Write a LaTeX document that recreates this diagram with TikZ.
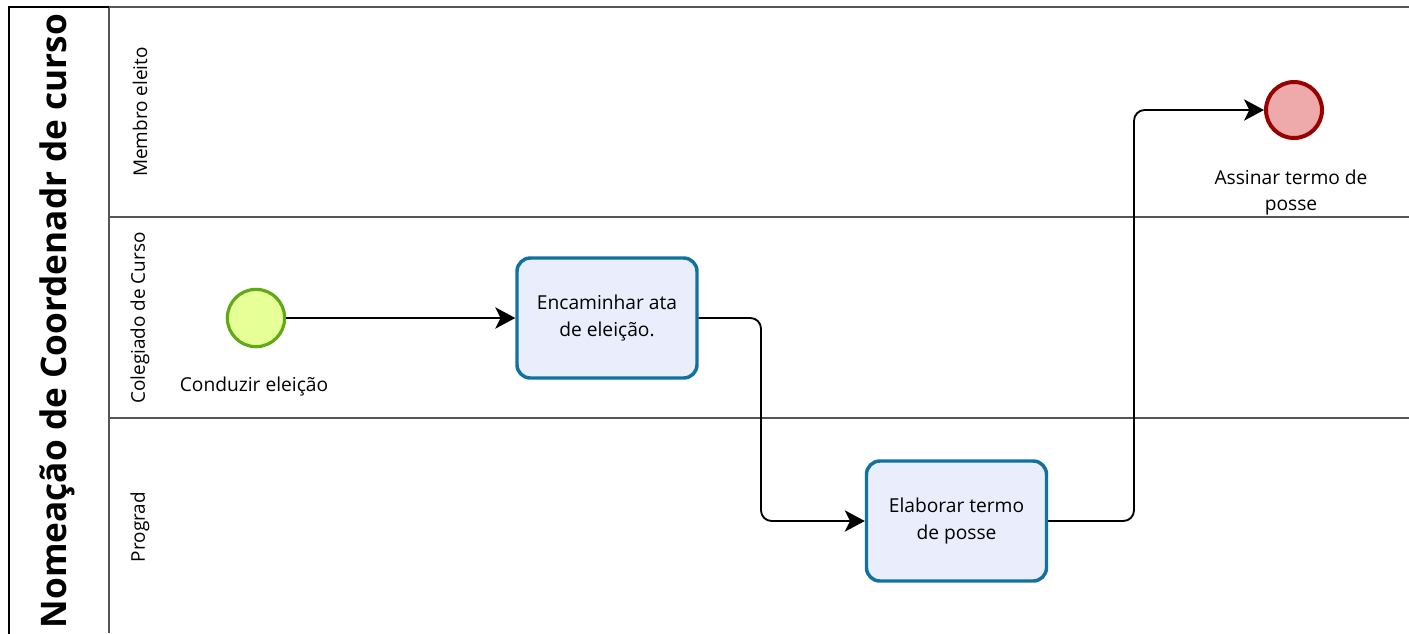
\documentclass[tikz,border=0pt]{standalone}
\usepackage{fontspec}
\setmainfont{Open Sans}
\usetikzlibrary{arrows.meta}
\definecolor{taskfill}{HTML}{EAEDFC}
\definecolor{taskline}{HTML}{10739E}
\definecolor{startfill}{HTML}{E6FF97}
\definecolor{startline}{HTML}{60A917}
\definecolor{endfill}{HTML}{EEA9AA}
\definecolor{endline}{HTML}{990000}
\definecolor{laneline}{HTML}{555555}
\begin{document}
\begin{tikzpicture}[x=0.75pt,y=-0.75pt,
  task/.style={draw=taskline,fill=taskfill,line width=2.6pt,rounded corners=10pt,minimum width=135pt,minimum height=90pt,align=center,font=\fontsize{14.4}{20.5}\selectfont,inner sep=0pt},
  startev/.style={circle,draw=startline,fill=startfill,line width=2.4pt,minimum size=43pt,inner sep=0pt},
  endev/.style={circle,draw=endline,fill=endfill,line width=3pt,minimum size=42pt,inner sep=0pt},
  lbl/.style={font=\fontsize{14.4}{19.5}\selectfont,align=center,inner sep=0pt},
  lanelbl/.style={font=\fontsize{14.2}{17}\selectfont,rotate=90,inner sep=0pt},
  flow/.style={draw=black,line width=1.4pt,rounded corners=8pt,-{Stealth[length=15pt,width=16pt,inset=4pt]}}]
\useasboundingbox (0,0) rectangle (1409,633);
% lanes
\draw[laneline,line width=1.5pt] (109,7) -- (1409,7);
\draw[laneline,line width=1.5pt] (109,217) -- (1409,217);
\draw[laneline,line width=1.5pt] (109,418) -- (1409,418);
\draw[laneline,line width=1.5pt] (109,7) -- (109,633);
% pool
\draw[black,line width=2pt] (9,640) -- (9,7) -- (109,7);
\node[rotate=90,font=\fontsize{26.4}{30}\bfseries\selectfont,inner sep=0pt] (pool) at (57,321) {Nomeação de Coordenadr de curso};
\node[lanelbl] (l1) at (140,112) {Membro eleito};
\node[lanelbl] (l2) at (140,318) {Colegiado de Curso};
\node[lanelbl] (l3) at (140,527) {Prograd};
% events and tasks
\node[startev] (start) at (256,318) {};
\node[lbl] (startlbl) at (254,387) {Conduzir eleição};
\node[task] (t1) at (607,318) {Encaminhar ata\\de eleição.};
\node[task] (t2) at (956.5,521) {Elaborar termo\\de posse};
\node[endev] (end) at (1294,110) {};
\node[lbl] (endlbl) at (1291,193) {Assinar termo de\\posse};
% flows
\draw[flow] (start) -- (t1);
\draw[flow] (t1.east) -- (761,318) -- (761,521) -- (t2.west);
\draw[flow] (t2.east) -- (1134,521) -- (1134,110) -- (end.west);
\end{tikzpicture}
\end{document}
